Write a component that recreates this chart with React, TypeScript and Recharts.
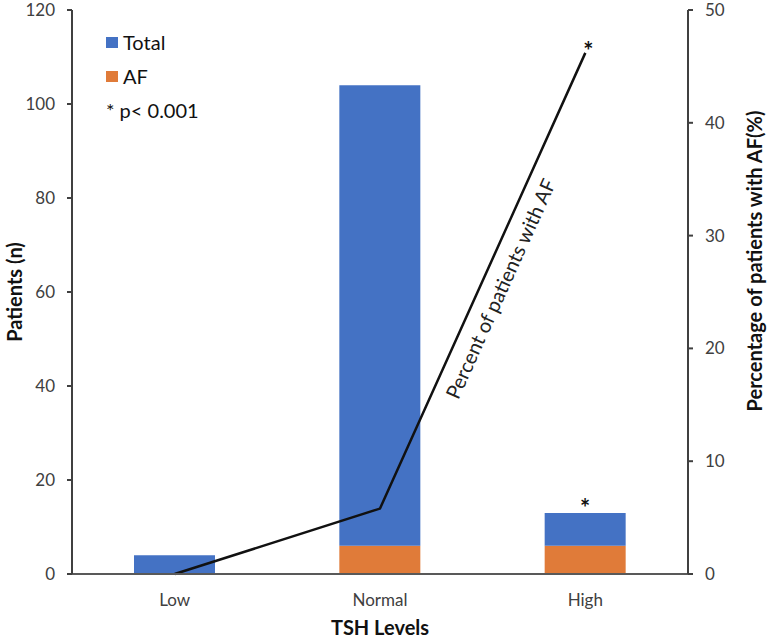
import React from 'react';
import { ComposedChart, Bar, Line, XAxis, YAxis, LabelList } from 'recharts';

const categories = ['Low', 'Normal', 'High'];
const totalPatients = [4, 104, 13];
const afPatients = [0, 6, 6];
const afPercent = [0, 5.8, 46.2];
const barMarks = ['', '', '*'];
const lineMarks = ['', '', '*'];

const leftTicks = [0, 20, 40, 60, 80, 100, 120];
const rightTicks = [0, 10, 20, 30, 40, 50];

const FONT = 'Lato, "Open Sans", sans-serif';
const BLUE = '#4472C4';
const ORANGE = '#E07B39';
const AXIS = '#595959';

const data = categories.map((name, i) => ({
  name,
  af: afPatients[i],
  rest: totalPatients[i] - afPatients[i],
  pct: afPercent[i],
  barMark: barMarks[i],
  lineMark: lineMarks[i],
}));

const swatch = (color: string) => (
  <span style={{ width: 12, height: 11, background: color, display: 'inline-block', marginRight: 5 }} />
);

// legend drawn as a plain overlay in the upper-left corner
const LegendBox = () => (
  <div style={{ position: 'absolute', left: 106, top: 25, fontFamily: FONT, fontSize: 20, color: '#111', lineHeight: '34px' }}>
    <div style={{ display: 'flex', alignItems: 'center' }}>{swatch(BLUE)}Total</div>
    <div style={{ display: 'flex', alignItems: 'center' }}>{swatch(ORANGE)}AF</div>
    <div>* p&lt; 0.001</div>
  </div>
);

// dot renderer: asterisk at the high point and the rotated line label
const renderDot = (props: any) => {
  const { cx, cy, index, points } = props;
  if (index !== 2) return <g key={`d-${index}`} />;
  let label = null;
  if (points && points.length > 2) {
    const a = points[1];
    const b = points[2];
    const ang = (Math.atan2(b.y - a.y, b.x - a.x) * 180) / Math.PI;
    const mx = a.x + (b.x - a.x) * 0.5;
    const my = a.y + (b.y - a.y) * 0.5;
    label = (
      <g transform={`translate(${mx} ${my}) rotate(${ang})`}>
        <text x={0} y={19} textAnchor="middle" dominantBaseline="central"
          fontFamily={FONT} fontSize={20} fill="#222">
          Percent of patients with AF
        </text>
      </g>
    );
  }
  return (
    <g key={`d-${index}`}>
      <text x={cx + 3} y={cy + 7} textAnchor="middle" fontFamily={FONT} fontSize={24} fontWeight={700} fill="#111">
        {data[index].lineMark}
      </text>
      {label}
    </g>
  );
};

const renderBarMark = (props: any) => {
  const { x, y, width, value } = props;
  if (!value) return null;
  return (
    <text x={x + width / 2} y={y + 4} textAnchor="middle" fontFamily={FONT} fontSize={24} fontWeight={700} fill="#111">
      {value}
    </text>
  );
};

const titleStyle = { fontFamily: FONT, fontSize: 20, fontWeight: 700, fill: '#111' };

const LeftTitle = (props: any) => {
  const { viewBox } = props;
  const x = 14;
  const y = viewBox.y + viewBox.height / 2;
  return (
    <text x={x} y={y} transform={`rotate(-90 ${x} ${y})`} textAnchor="middle" dominantBaseline="central" style={titleStyle}>
      Patients (n)
    </text>
  );
};

const RightTitle = (props: any) => {
  const { viewBox } = props;
  const x = viewBox.x + 66;
  const y = viewBox.y + viewBox.height / 2 - 31;
  return (
    <text x={x} y={y} transform={`rotate(-90 ${x} ${y})`} textAnchor="middle" dominantBaseline="central" style={titleStyle}>
      Percentage of patients with AF(%)
    </text>
  );
};

const BottomTitle = (props: any) => {
  const { viewBox } = props;
  const x = viewBox.x + viewBox.width / 2;
  return (
    <text x={x} y={viewBox.y + 53} textAnchor="middle" dominantBaseline="central" style={titleStyle}>
      TSH Levels
    </text>
  );
};

export default function App() {
  return (
    <div style={{ position: 'absolute', left: 0, top: 0, width: 768, height: 641, background: '#fff' }}>
      <ComposedChart width={768} height={641} data={data}
        margin={{ top: 10, right: 0, bottom: 0, left: 0 }} barCategoryGap="30%">
        <XAxis dataKey="name" height={67} tickLine={false}
          axisLine={{ stroke: AXIS, strokeWidth: 2 }}
          tick={{ fontFamily: FONT, fontSize: 17, fill: '#404040' }} tickMargin={14}
          label={<BottomTitle />} />
        <YAxis yAxisId="left" width={72} domain={[0, 120]} ticks={leftTicks}
          tickSize={5} tickMargin={12} axisLine={{ stroke: '#404040', strokeWidth: 2 }}
          tickLine={{ stroke: '#404040', strokeWidth: 2 }}
          tick={{ fontFamily: FONT, fontSize: 17, fill: '#404040' }}
          label={<LeftTitle />} />
        <YAxis yAxisId="right" orientation="right" width={80} domain={[0, 50]} ticks={rightTicks}
          tickSize={5} tickMargin={12} axisLine={{ stroke: '#404040', strokeWidth: 2 }}
          tickLine={{ stroke: '#404040', strokeWidth: 2 }}
          tick={{ fontFamily: FONT, fontSize: 17, fill: '#404040' }}
          label={<RightTitle />} />
        <Bar yAxisId="left" dataKey="af" stackId="a" fill={ORANGE} barSize={81} isAnimationActive={false} />
        <Bar yAxisId="left" dataKey="rest" stackId="a" fill={BLUE} barSize={81} isAnimationActive={false}>
          <LabelList dataKey="barMark" content={renderBarMark} />
        </Bar>
        <Line yAxisId="right" type="linear" dataKey="pct" stroke="#111" strokeWidth={2.5}
          dot={renderDot} activeDot={false} isAnimationActive={false} />
      </ComposedChart>
      <LegendBox />
    </div>
  );
}
